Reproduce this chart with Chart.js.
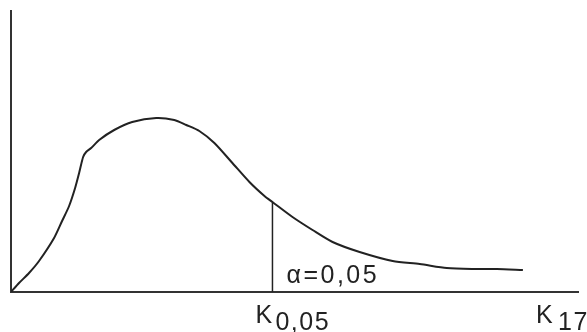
<!DOCTYPE html>
<html>
<head>
<meta charset="utf-8">
<script src="https://cdn.jsdelivr.net/npm/chart.js@4"></script>
<style>
html,body{margin:0;padding:0;background:#fff;}
#wrap{width:587px;height:332px;}
</style>
</head>
<body>
<div id="wrap"><canvas id="c" width="587" height="332"></canvas></div>
<script>
// Density curve (x, y)
const curveX = [0, 0.8, 1.8, 2.8, 4.3, 5.1, 5.8, 6.4, 6.8, 7.2, 7.5, 8.0, 8.8, 10.3, 12.1, 14.5, 16.3, 17.5, 18.8, 20.3, 22.1, 23.8, 25.3, 26.1, 28.1, 30.1, 32.1, 34.8, 38.1, 40.8, 43.5, 46.0, 48.5, 51.1];
const curveY = [0, 0.9, 1.9, 3.1, 5.4, 7.1, 8.6, 10.4, 11.9, 13.5, 14.0, 14.4, 15.2, 16.2, 17.0, 17.4, 17.2, 16.7, 16.1, 14.9, 12.9, 11.0, 9.6, 9.0, 7.5, 6.2, 5.0, 4.0, 3.1, 2.8, 2.4, 2.3, 2.3, 2.2];
// critical value and its ordinate
const critX = 26.1;
const critY = 9.0;
// axis extents
const xMax = 56.6;
const yMax = 28.1;
// text labels
const alphaLabel = "α=0,05";
const critLabel = ["K", "0,05"];
const endLabel = ["K", "17"];

const curve = curveX.map((x, i) => ({x: x, y: curveY[i]}));
const critLine = [{x: critX, y: 0}, {x: critX, y: critY}];

const FONT = '25px "Liberation Sans", Arial, sans-serif';

const labelPlugin = {
  id: 'labels',
  afterDraw(chart) {
    const ctx = chart.ctx;
    const xs = chart.scales.x, ys = chart.scales.y;
    ctx.save();
    ctx.fillStyle = '#222';
    ctx.font = FONT;
    ctx.textBaseline = 'alphabetic';
    ctx.textAlign = 'left';
    try { ctx.letterSpacing = '2.5px'; } catch (e) {}
    const base = ys.getPixelForValue(0);
    const cx = xs.getPixelForValue(critX);
    // alpha label right of the critical line
    ctx.fillText(alphaLabel, cx + 14, base - 9);
    try { ctx.letterSpacing = '1.5px'; } catch (e) {}
    // K_0,05 under the critical line
    ctx.fillText(critLabel[0], cx - 17, base + 31);
    ctx.fillText(critLabel[1], cx + 3, base + 38);
    // K 17 at the end of the axis
    const ex = xs.getPixelForValue(xMax);
    ctx.fillText(endLabel[0], ex - 42, base + 31);
    ctx.fillText(endLabel[1], ex - 20, base + 38);
    ctx.restore();
  }
};

new Chart(document.getElementById('c'), {
  type: 'line',
  data: {
    datasets: [
      {data: curve, borderColor: '#222', borderWidth: 2, pointRadius: 0, tension: 0.25, fill: false},
      {data: critLine, borderColor: '#222', borderWidth: 1.5, pointRadius: 0, tension: 0, fill: false}
    ]
  },
  options: {
    responsive: false,
    animation: false,
    events: [],
    layout: {padding: {left: 11, top: 11, right: 9, bottom: 40}},
    plugins: {legend: {display: false}, tooltip: {enabled: false}},
    scales: {
      x: {type: 'linear', min: 0, max: xMax,
          grid: {display: false, drawTicks: false},
          ticks: {display: false},
          border: {display: true, color: '#333', width: 2}},
      y: {type: 'linear', min: 0, max: yMax,
          grid: {display: false, drawTicks: false},
          ticks: {display: false},
          border: {display: true, color: '#333', width: 2}}
    }
  },
  plugins: [labelPlugin]
});
</script>
</body>
</html>
